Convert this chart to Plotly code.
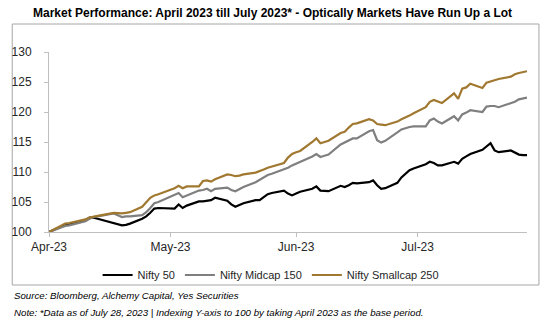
import plotly.graph_objects as go

dates = [
    "2023-04-01", "2023-04-03", "2023-04-05", "2023-04-06", "2023-04-10", "2023-04-11", "2023-04-12",
    "2023-04-13", "2023-04-17", "2023-04-18", "2023-04-19", "2023-04-20", "2023-04-21", "2023-04-24",
    "2023-04-25", "2023-04-26", "2023-04-27", "2023-04-28",
    "2023-05-02", "2023-05-03", "2023-05-04", "2023-05-05", "2023-05-08", "2023-05-09", "2023-05-10",
    "2023-05-11", "2023-05-12", "2023-05-15", "2023-05-16", "2023-05-17", "2023-05-18", "2023-05-19",
    "2023-05-22", "2023-05-23", "2023-05-24", "2023-05-25", "2023-05-26", "2023-05-29", "2023-05-30",
    "2023-05-31",
    "2023-06-01", "2023-06-02", "2023-06-05", "2023-06-06", "2023-06-07", "2023-06-08", "2023-06-09",
    "2023-06-12", "2023-06-13", "2023-06-14", "2023-06-15", "2023-06-16", "2023-06-19", "2023-06-20",
    "2023-06-21", "2023-06-22", "2023-06-23", "2023-06-26", "2023-06-27", "2023-06-29", "2023-06-30",
    "2023-07-03", "2023-07-04", "2023-07-05", "2023-07-06", "2023-07-07", "2023-07-10", "2023-07-11",
    "2023-07-12", "2023-07-13", "2023-07-14", "2023-07-17", "2023-07-18", "2023-07-19", "2023-07-20",
    "2023-07-21", "2023-07-24", "2023-07-25", "2023-07-26", "2023-07-27", "2023-07-28",
]

nifty50 = [
    100.0, 100.6, 101.2, 101.3, 102.0, 102.4, 102.4, 102.2, 101.4, 101.3, 101.1, 101.2, 101.4, 102.2,
    102.6, 103.2, 103.9, 104.0,
    103.9, 104.6, 104.0, 104.4, 105.1, 105.1, 105.2, 105.3, 105.7, 105.2, 104.6, 104.2, 104.5, 104.8,
    105.3, 105.3, 105.8, 106.3, 106.5, 106.9, 106.4, 106.1,
    106.4, 106.7, 107.2, 107.6, 106.9, 106.8, 106.8, 107.7, 107.5, 107.8, 108.2, 108.1, 108.3, 108.6,
    107.8, 107.2, 107.3, 108.2, 109.1, 110.3, 110.6,
    111.3, 111.7, 111.5, 111.1, 111.1, 111.7, 111.4, 112.2, 112.6, 113.0, 113.7, 114.3, 114.8, 113.6,
    113.3, 113.6, 113.2, 112.9, 112.8, 112.8,
]

midcap150 = [
    100.0, 100.5, 101.0, 101.1, 101.8, 102.2, 102.5, 102.6, 103.1, 102.8, 102.5, 102.6, 102.6, 102.8,
    103.3, 104.0, 104.8, 105.0,
    106.2, 106.5, 105.8, 106.1, 106.9, 107.0, 107.2, 106.8, 107.2, 107.4, 107.0, 106.8, 107.2, 107.5,
    108.3, 108.7, 109.2, 109.5, 109.7, 110.4, 110.7, 111.1,
    111.4, 111.6, 112.6, 113.0, 112.5, 112.7, 112.9, 114.6, 114.9, 115.3, 115.6, 115.6, 116.8, 117.0,
    115.3, 114.9, 115.2, 116.6, 117.1, 117.5, 117.6,
    117.6, 118.6, 118.9, 118.4, 118.1, 119.3, 118.6, 119.6, 119.9, 120.3, 120.0, 120.9, 121.0, 121.0,
    120.8, 121.4, 121.7, 122.1, 122.3, 122.4,
]

smallcap250 = [
    100.0, 100.7, 101.4, 101.5, 102.1, 102.4, 102.6, 102.7, 103.2, 103.1, 103.1, 103.2, 103.3, 104.2,
    104.9, 105.7, 106.1, 106.3,
    107.3, 107.7, 107.3, 107.6, 107.6, 108.5, 108.6, 108.4, 108.8, 109.6, 109.5, 109.3, 109.4, 109.6,
    109.9, 110.1, 110.4, 110.7, 110.9, 111.5, 112.4, 113.0,
    113.3, 113.5, 115.0, 115.6, 114.8, 115.0, 115.2, 116.5, 116.7, 117.4, 118.0, 118.1, 118.8, 118.6,
    118.0, 117.9, 117.8, 118.4, 118.8, 119.4, 119.8,
    120.8, 121.7, 122.0, 121.7, 121.5, 123.1, 122.2, 123.9, 124.1, 124.7, 124.0, 124.9, 125.1, 125.4,
    125.5, 125.9, 126.3, 126.5, 126.7, 126.8,
]

series_names = ["Nifty 50", "Nifty Midcap 150", "Nifty Smallcap 250"]
series_colors = ["#000000", "#7F7F7F", "#A07830"]

month_ticks = ["2023-04-01", "2023-05-01", "2023-06-01", "2023-07-01"]
month_labels = ["Apr-23", "May-23", "Jun-23", "Jul-23"]
y_ticks = [100, 105, 110, 115, 120, 125, 130]

title_text = "Market Performance: April 2023 till July 2023* - Optically Markets Have Run Up a Lot"
source_text = "Source: Bloomberg, Alchemy Capital, Yes Securities"
note_text = "Note: *Data as of July 28, 2023 | Indexing Y-axis to 100 by taking April 2023 as the base period."

FONT = "Liberation Sans, Arial, sans-serif"

fig = go.Figure()
for name, vals, col in zip(series_names, [nifty50, midcap150, smallcap250], series_colors):
    fig.add_trace(go.Scatter(x=dates, y=vals, mode="lines", name=name,
                             line=dict(color=col, width=2.2)))

W, H = 545, 328
L, R, T, B = 46, 18, 52, 96
pw, ph = W - L - R, H - T - B

def px_x(p):
    return (p - L) / pw

def px_y(p):
    return (H - B - p) / ph

fig.update_layout(
    width=W, height=H,
    margin=dict(l=L, r=R, t=T, b=B, pad=0),
    paper_bgcolor="white", plot_bgcolor="white",
    font=dict(family=FONT, size=12, color="#262626"),
    showlegend=True,
    legend=dict(orientation="h", x=px_x(269), xanchor="center", y=px_y(275), yanchor="middle",
                font=dict(size=11, color="#262626"), itemwidth=30, tracegroupgap=0,
                bgcolor="rgba(0,0,0,0)"),
    xaxis=dict(type="date", range=["2023-04-01", "2023-07-28"],
               tickvals=month_ticks, ticktext=month_labels,
               showgrid=False, zeroline=False, showline=True, linecolor="#BFBFBF", linewidth=1,
               ticks="outside", ticklen=4, tickcolor="#BFBFBF",
               tickfont=dict(size=12, color="#262626")),
    yaxis=dict(range=[100, 130], tickvals=y_ticks, showgrid=False, zeroline=False,
               showline=True, linecolor="#BFBFBF", linewidth=1,
               ticks="outside", ticklen=4, tickcolor="#BFBFBF", ticklabelstandoff=10,
               tickfont=dict(size=12, color="#262626")),
    shapes=[dict(type="rect", xref="paper", yref="paper",
                 x0=px_x(9), x1=px_x(539), y0=px_y(285), y1=px_y(24),
                 line=dict(color="#A6A6A6", width=1), fillcolor="rgba(0,0,0,0)", layer="below")],
    annotations=[
        dict(text="<b>" + title_text + "</b>", xref="paper", yref="paper",
             x=px_x(271), y=px_y(13), xanchor="center", yanchor="middle", showarrow=False,
             font=dict(size=12, color="#000000")),
        dict(text="<i>" + source_text + "</i>", xref="paper", yref="paper",
             x=px_x(9), y=px_y(295), xanchor="left", yanchor="middle", showarrow=False,
             font=dict(size=9.7, color="#000000")),
        dict(text="<i>" + note_text + "</i>", xref="paper", yref="paper",
             x=px_x(9), y=px_y(312), xanchor="left", yanchor="middle", showarrow=False,
             font=dict(size=9.7, color="#000000")),
    ],
)

fig.write_html("out.html")
